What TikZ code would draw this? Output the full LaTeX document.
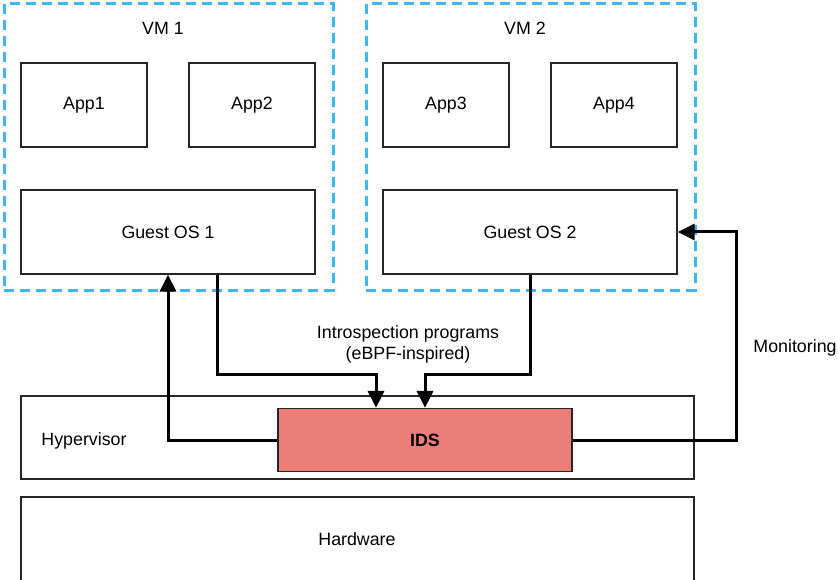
\documentclass[tikz,border=0pt]{standalone}
\usepackage{fontspec}
\setmainfont{Liberation Sans}
\usetikzlibrary{arrows.meta}
\definecolor{vmblue}{RGB}{64,182,248}
\definecolor{idsred}{RGB}{236,126,122}
\tikzset{
  box/.style={draw=black!85, line width=1.2pt, rectangle, inner sep=0pt},
  vmbox/.style={draw=vmblue, line width=3pt, dash pattern=on 10pt off 6pt, rectangle, inner sep=0pt},
  arr/.style={line width=3pt, -{Triangle[length=17pt,width=16pt]}},
  lbl/.style={inner sep=0pt, align=center}
}
\begin{document}
\begin{tikzpicture}[x=1pt,y=-1pt,font=\fontsize{17.8}{21}\selectfont]
\useasboundingbox (0,0) rectangle (838,580);
% VMs
\node[vmbox, minimum width=329pt, minimum height=286pt] (vm1) at (168.5,147) {};
\node[vmbox, minimum width=329pt, minimum height=286pt] (vm2) at (530.5,147) {};
\node[lbl] (vm1l) at (163,28) {VM 1};
\node[lbl] (vm2l) at (525,28) {VM 2};
% Apps
\node[box, minimum width=126pt, minimum height=84pt] (app1) at (84,105) {App1};
\node[box, minimum width=126pt, minimum height=84pt] (app2) at (252,105) {App2};
\node[box, minimum width=126pt, minimum height=84pt] (app3) at (446,105) {App3};
\node[box, minimum width=126pt, minimum height=84pt] (app4) at (614,105) {App4};
% Guest OS
\node[box, minimum width=294pt, minimum height=84pt] (gos1) at (168,232) {Guest OS 1};
\node[box, minimum width=294pt, minimum height=84pt] (gos2) at (530,232) {Guest OS 2};
% Hypervisor & Hardware
\node[box, minimum width=673pt, minimum height=83pt] (hyp) at (357.5,437.5) {};
\node[lbl] (hypl) at (84,441) {Hypervisor};
\node[box, minimum width=673pt, minimum height=88pt] (hw) at (357.5,541) {};
\node[lbl] (hwl) at (357,539) {Hardware};
% IDS
\node[box, fill=idsred, minimum width=294pt, minimum height=63pt, font=\fontsize{17.8}{21}\selectfont\bfseries] (ids) at (425,440) {IDS};
% Labels
\node[lbl] (intro) at (408,344) {Introspection programs\\(eBPF-inspired)};
\node[lbl] (mon) at (795,348) {Monitoring};
% Connectors
\draw[arr] (ids.west) -| (gos1.south);
\draw[arr] ([xshift=49pt]gos1.south) -- ++(0,100) -| ([xshift=-49pt]ids.north);
\draw[arr] (gos2.south) -- ++(0,100) -| (ids.north);
\draw[arr] (ids.east) -- ++(164,0) |- (gos2.east);
\end{tikzpicture}
\end{document}
